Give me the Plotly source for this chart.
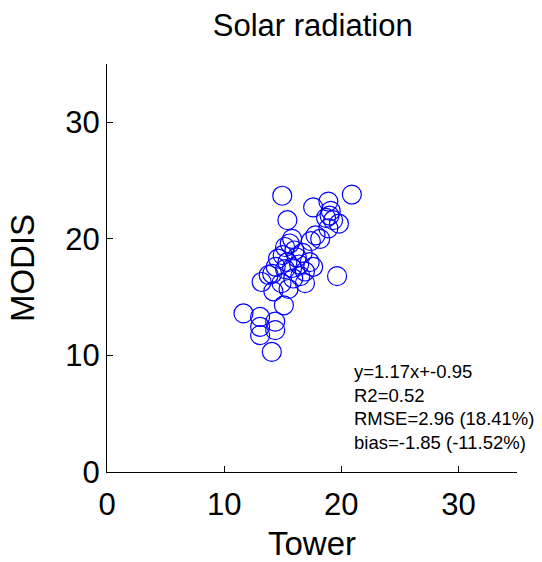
import plotly.graph_objects as go

tower = [14.96, 20.9, 15.4, 17.6, 18.9, 19.1, 19.3, 19.8, 18.7, 18.9, 17.8, 18.2, 17.4, 15.8, 19.0,
         15.2, 15.6, 16.0, 15.0, 14.6, 15.4, 16.2, 16.7, 16.4, 15.8, 15.2, 14.4, 14.1, 16.9, 17.3,
         17.6, 16.5, 15.9, 13.2, 14.9, 15.5, 16.9, 14.2, 13.8, 15.1,
         11.65, 13.07, 13.07, 14.36, 14.36, 13.07, 14.07, 19.64]
modis = [23.7, 23.8, 21.6, 22.7, 23.2, 22.4, 21.6, 21.3, 21.8, 20.9, 20.3, 20.0, 19.8, 20.0, 22.0,
         19.3, 19.6, 19.0, 18.6, 18.3, 18.0, 18.4, 18.8, 17.8, 17.5, 17.4, 17.6, 17.0, 17.2, 18.0,
         17.6, 16.8, 16.6, 16.3, 16.2, 15.7, 16.2, 15.5, 16.9, 14.3,
         13.6, 13.3, 12.45, 12.9, 12.17, 11.74, 10.3, 16.8]

stats_lines = ["y=1.17x+-0.95", "R2=0.52", "RMSE=2.96 (18.41%)", "bias=-1.85 (-11.52%)"]
stats_y = [8.65, 6.6, 4.55, 2.5]
ticks = [0, 10, 20, 30]

FONT = "Liberation Sans, Arial, sans-serif"

fig = go.Figure()
fig.add_trace(go.Scatter(
    x=tower, y=modis, mode="markers",
    marker=dict(symbol="circle-open", size=19, color="#0000FF", line=dict(width=1.2, color="#0000FF")),
    showlegend=False, hoverinfo="x+y"))

for txt, yy in zip(stats_lines, stats_y):
    fig.add_annotation(x=20.9, y=yy, xref="x", yref="y", text=txt, showarrow=False,
                       xanchor="left", yanchor="middle",
                       font=dict(family=FONT, size=18.5, color="black"))

axis_common = dict(range=[0, 35], tickvals=ticks, ticks="inside", ticklen=6, tickwidth=1,
                   tickcolor="black", showline=True, linecolor="black", linewidth=1,
                   showgrid=False, zeroline=False, mirror=False,
                   tickfont=dict(family=FONT, size=31, color="black"))

fig.update_layout(
    width=542, height=562,
    margin=dict(l=107, r=25, t=64, b=90, autoexpand=False),
    paper_bgcolor="white", plot_bgcolor="white",
    title=dict(text="Solar radiation", x=0.577, xanchor="center", y=0.955, yanchor="middle",
               font=dict(family=FONT, size=31, color="black")),
    xaxis=dict(**axis_common, ticklabelstandoff=5,
               title=dict(text="Tower", font=dict(family=FONT, size=33, color="black"), standoff=10)),
    yaxis=dict(**axis_common,
               title=dict(text="MODIS", font=dict(family=FONT, size=33, color="black"), standoff=20)),
)

fig.write_html("out.html")
